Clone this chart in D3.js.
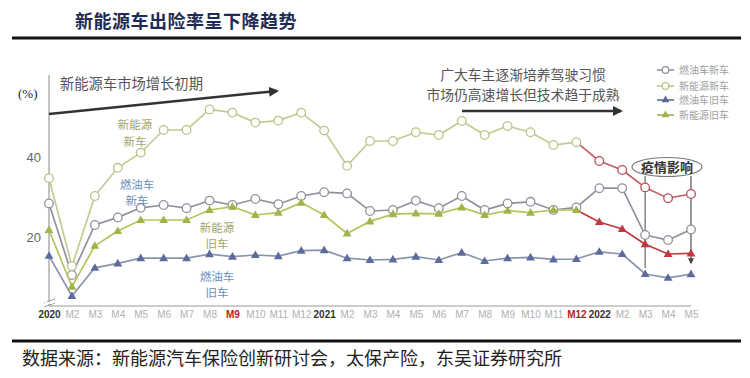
<!DOCTYPE html>
<html><head><meta charset="utf-8">
<script src="https://cdn.jsdelivr.net/npm/d3@7/dist/d3.min.js"></script>
<style>
html,body{margin:0;padding:0;background:#fff;}
svg{display:block;font-family:"Noto Sans CJK SC","Noto Sans",sans-serif;}
</style></head>
<body><svg id="c" width="750" height="378"></svg>
<script>
const categories = ["2020","M2","M3","M4","M5","M6","M7","M8","M9","M10","M11","M12",
  "2021","M2","M3","M4","M5","M6","M7","M8","M9","M10","M11","M12",
  "2022","M2","M3","M4","M5"];
const gasNew  = [28.4,10.5,23,24.9,27.3,28,27.2,29.1,28,29.5,28.2,30.25,31.2,30.9,26.5,26.75,29.1,27.2,30.25,26.75,28.4,28.8,26.75,27.4,32.2,32.2,20.5,19.25,21.9];
const nevNew  = [34.7,12.7,30.25,37.3,41.1,46.75,46.75,51.9,51.1,48.6,49.1,51.1,46.6,37.8,44,44,46.2,45.5,49,45.5,47.75,46.2,43,43.7,39,36.75,32.4,29.7,30.75];
const gasUsed = [15.3,5.25,12.3,13.4,14.7,14.7,14.7,15.7,15.1,15.5,15.2,16.6,16.7,14.7,14.25,14.4,15.1,14.25,16.1,14,14.7,14.9,14.4,14.5,16.3,15.75,10.75,9.8,10.7];
const nevUsed = [21.75,7.6,17.8,21.5,24.25,24.25,24.25,26.75,27.6,25.5,26.1,28.6,25.5,20.9,23.9,25.7,25.9,25.8,27.4,25.5,26.6,26.1,26.75,26.75,23.75,22,18.2,15.75,15.9];
const yTicks = [20,40];
const seriesNames = ["燃油车新车","新能源新车","燃油车旧车","新能源旧车"];
const yearLabels = ["2020","2021","2022"];

const svg = d3.select("#c");
const idx = d3.range(categories.length);
const x = d3.scalePoint().domain(idx).range([49,691]);
const y = d3.scaleLinear().domain([0,60]).range([317,77]);
const RED_FROM = 23;

// title
svg.append("text").attr("x",186).attr("y",28).attr("text-anchor","middle")
  .attr("font-size",18).attr("font-weight","bold").attr("fill","#1e2c55")
  .attr("font-family","'Noto Sans CJK SC',serif").attr("letter-spacing",0.5)
  .text("新能源车出险率呈下降趋势");
svg.append("line").attr("x1",12).attr("x2",741).attr("y1",38).attr("y2",38)
  .attr("stroke","#111").attr("stroke-width",3);

// bottom
svg.append("line").attr("x1",12).attr("x2",741).attr("y1",341).attr("y2",341)
  .attr("stroke","#111").attr("stroke-width",3);
svg.append("text").attr("x",22).attr("y",365).attr("font-size",18)
  .attr("fill","#222").attr("font-family","'Noto Sans CJK SC',serif")
  .text("数据来源：新能源汽车保险创新研讨会，太保产险，东吴证券研究所");

// axes
svg.append("line").attr("x1",49).attr("x2",49).attr("y1",75).attr("y2",306)
  .attr("stroke","#999").attr("stroke-width",1.2);
const xa = svg.append("g").attr("transform","translate(0,306)")
  .call(d3.axisBottom(x).tickSize(0).tickPadding(5).tickFormat(i=>categories[i]));
xa.select(".domain").attr("stroke","#999").attr("stroke-width",1.2).attr("d","M49,0H691");
xa.selectAll("text").attr("font-size",10).attr("font-family","'Liberation Sans',Arial,sans-serif")
  .attr("fill",(i)=> yearLabels.includes(categories[i]) ? "#333" : ((i===8||i===23) ? "#b3202b" : "#b0b0b0"))
  .attr("font-weight",(i)=> (yearLabels.includes(categories[i])||i===8||i===23) ? "bold" : "normal");
// break marks
svg.append("path").attr("d","M44,303 L55,299 M44,307 L55,303").attr("stroke","#999").attr("stroke-width",1).attr("fill","none");
svg.append("rect").attr("x",45).attr("y",302).attr("width",8).attr("height",2).attr("fill","#fff");

const ya = svg.append("g").attr("transform","translate(49,0)")
  .call(d3.axisLeft(y).tickValues(yTicks).tickSize(0).tickPadding(8));
ya.select(".domain").remove();
ya.selectAll("text").attr("font-size",13).attr("fill","#666").attr("font-family","'Liberation Sans',Arial,sans-serif");

svg.append("text").attr("x",18).attr("y",98).attr("font-size",13).attr("fill","#222")
  .attr("font-family","'Liberation Serif',serif").text("(%)");

// annotations
const defs = svg.append("defs");
defs.append("marker").attr("id","ah").attr("viewBox","0 0 10 10").attr("refX",8).attr("refY",5)
  .attr("markerWidth",4).attr("markerHeight",4).attr("orient","auto")
  .append("path").attr("d","M0,0L10,5L0,10z").attr("fill","#333");
defs.append("marker").attr("id","ah2").attr("viewBox","0 0 10 10").attr("refX",8).attr("refY",5)
  .attr("markerWidth",5).attr("markerHeight",5).attr("orient","auto")
  .append("path").attr("d","M0,0L10,5L0,10z").attr("fill","#444");

svg.append("text").attr("x",60).attr("y",89).attr("font-size",14.3).attr("fill","#555")
  .text("新能源车市场增长初期");
svg.append("line").attr("x1",49).attr("y1",114).attr("x2",277).attr("y2",91)
  .attr("stroke","#333").attr("stroke-width",2.5).attr("marker-end","url(#ah)");
svg.append("text").attr("x",523).attr("y",80).attr("text-anchor","middle").attr("font-size",13.8).attr("fill","#555")
  .text("广大车主逐渐培养驾驶习惯");
svg.append("text").attr("x",523).attr("y",100).attr("text-anchor","middle").attr("font-size",13.8).attr("fill","#555")
  .text("市场仍高速增长但技术趋于成熟");
svg.append("line").attr("x1",462).attr("y1",111).attr("x2",621).attr("y2",111)
  .attr("stroke","#333").attr("stroke-width",2.5).attr("marker-end","url(#ah)");

// epidemic annotation
svg.append("line").attr("x1",x(26)).attr("x2",x(26)).attr("y1",176).attr("y2",268)
  .attr("stroke","#666").attr("stroke-width",1.2);
svg.append("line").attr("x1",x(28)).attr("x2",x(28)).attr("y1",176).attr("y2",263)
  .attr("stroke","#555").attr("stroke-width",1.2).attr("marker-end","url(#ah2)");

// series
const series = [
  {name:"gasNew", vals:gasNew, line:"#8e929b", mk:"circle", mstroke:"#8e929b", fill:"#fff", red:false},
  {name:"nevNew", vals:nevNew, line:"#c6ca92", mk:"circle", mstroke:"#bdc28a", fill:"#fff", red:true},
  {name:"gasUsed", vals:gasUsed, line:"#8994ad", mk:"tri", mstroke:"#5c6b9c", fill:"#5c6b9c", red:false},
  {name:"nevUsed", vals:nevUsed, line:"#b6c45c", mk:"tri", mstroke:"#9db54a", fill:"#9db54a", red:true}
];
const redLine = {nevNew:"#c3606a", nevUsed:"#c0393f"};
const redMk = {nevNew:"#b8505a", nevUsed:"#c0393f"};
const lineGen = d3.line().x(d=>x(d[0])).y(d=>y(d[1]));
const tri = d3.symbol().type(d3.symbolTriangle).size(34);

series.forEach(s=>{
  const pts = s.vals.map((v,i)=>[i,v]);
  const g = svg.append("g");
  if(s.red){
    g.append("path").attr("d",lineGen(pts.slice(0,RED_FROM+1))).attr("fill","none").attr("stroke",s.line).attr("stroke-width",1.7);
    g.append("path").attr("d",lineGen(pts.slice(RED_FROM))).attr("fill","none").attr("stroke",redLine[s.name]).attr("stroke-width",1.7);
  } else {
    g.append("path").attr("d",lineGen(pts)).attr("fill","none").attr("stroke",s.line).attr("stroke-width",1.7);
  }
  pts.forEach(p=>{
    const isRed = s.red && p[0] > RED_FROM;
    if(s.mk==="circle"){
      g.append("circle").attr("cx",x(p[0])).attr("cy",y(p[1])).attr("r",4.3)
        .attr("fill","#fff").attr("stroke",isRed?redMk[s.name]:s.mstroke).attr("stroke-width",1.3);
    } else {
      g.append("path").attr("d",tri).attr("transform",`translate(${x(p[0])},${y(p[1])+0.5})`)
        .attr("fill",isRed?redMk[s.name]:s.fill);
    }
  });
});

// ellipse label
svg.append("ellipse").attr("cx",667).attr("cy",167).attr("rx",35).attr("ry",9.5)
  .attr("fill","#fff").attr("stroke","#777").attr("stroke-width",1.2);
svg.append("text").attr("x",667).attr("y",172).attr("text-anchor","middle").attr("font-size",13)
  .attr("font-weight","bold").attr("fill","#333").text("疫情影响");

// series labels
const lbl = (txt,xx,yy,col)=>svg.append("text").attr("x",xx).attr("y",yy).attr("text-anchor","middle")
  .attr("font-size",11.5).attr("fill",col).text(txt);
lbl("新能源",135,129,"#a2a46c"); lbl("新车",135,146,"#a2a46c");
lbl("燃油车",137,189,"#6b8fbd"); lbl("新车",137,205,"#6b8fbd");
lbl("新能源",217,232,"#a2a46c"); lbl("旧车",217,248,"#a2a46c");
lbl("燃油车",217,281,"#6b8fbd"); lbl("旧车",217,297,"#6b8fbd");

// legend
const lg = svg.append("g");
const legendY = [70,86,100,115];
series.forEach((s,i)=>{
  const yy = legendY[i];
  lg.append("line").attr("x1",657).attr("x2",674).attr("y1",yy).attr("y2",yy).attr("stroke",s.mk==="circle"?s.mstroke:s.fill).attr("stroke-width",1.6);
  if(s.mk==="circle"){
    lg.append("circle").attr("cx",665.5).attr("cy",yy).attr("r",3.3).attr("fill","#fff").attr("stroke",s.mstroke).attr("stroke-width",1.2);
  } else {
    lg.append("path").attr("d",d3.symbol().type(d3.symbolTriangle).size(26)).attr("transform",`translate(665.5,${yy})`).attr("fill",s.fill);
  }
  lg.append("text").attr("x",679).attr("y",yy+3.5).attr("font-size",10).attr("fill","#a0a0a0").text(seriesNames[i]);
});
</script></body></html>
